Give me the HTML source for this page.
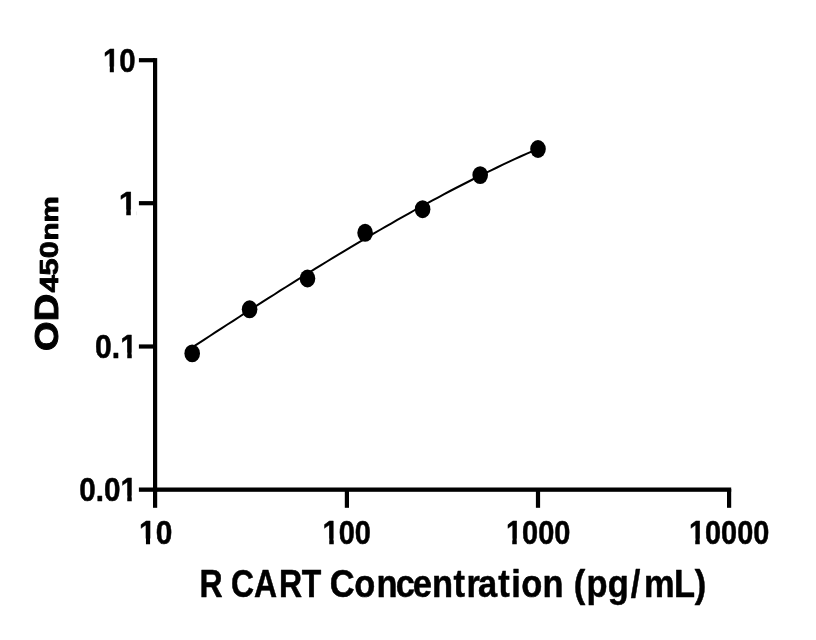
<!DOCTYPE html>
<html><head><meta charset="utf-8"><title>R CART standard curve</title>
<style>
html,body{margin:0;padding:0;background:#fff;}
body{width:816px;height:640px;overflow:hidden;}
svg{display:block;}
text{font-family:"Liberation Sans",sans-serif;font-weight:bold;fill:#000;stroke:#000;stroke-linejoin:round;}
</style></head><body>
<svg width="816" height="640" viewBox="0 0 816 640">
<rect width="816" height="640" fill="#fff"/>
<g fill="#000">
<rect x="153" y="58.1" width="4.2" height="433.7"/>
<rect x="138.9" y="487.5" width="592.3" height="4.3"/>
<rect x="138.9" y="58.1" width="16" height="4.2"/>
<rect x="138.9" y="201.1" width="16" height="4.2"/>
<rect x="138.9" y="344.4" width="16" height="4.2"/>
<rect x="153" y="489" width="4.2" height="18.8"/>
<rect x="344.8" y="489" width="4.2" height="18.8"/>
<rect x="535.9" y="489" width="4.2" height="18.8"/>
<rect x="727" y="489" width="4.2" height="18.8"/>
</g>
<path d="M192.2,347.4 L198.1,343.6 L203.9,339.8 L209.8,336.0 L215.6,332.2 L221.5,328.3 L227.4,324.5 L233.2,320.8 L239.1,317.0 L244.9,313.2 L250.8,309.4 L256.7,305.7 L262.5,301.9 L268.4,298.2 L274.3,294.5 L280.1,290.7 L286.0,287.0 L291.8,283.3 L297.7,279.7 L303.6,276.0 L309.4,272.4 L315.3,268.7 L321.1,265.1 L327.0,261.5 L332.9,257.9 L338.7,254.4 L344.6,250.8 L350.4,247.3 L356.3,243.8 L362.2,240.3 L368.0,236.9 L373.9,233.4 L379.8,230.0 L385.6,226.6 L391.5,223.3 L397.3,219.9 L403.2,216.6 L409.1,213.3 L414.9,210.0 L420.8,206.8 L426.6,203.6 L432.5,200.4 L438.4,197.3 L444.2,194.1 L450.1,191.0 L455.9,188.0 L461.8,185.0 L467.7,182.0 L473.5,179.0 L479.4,176.1 L485.3,173.2 L491.1,170.3 L497.0,167.5 L502.8,164.7 L508.7,161.9 L514.6,159.2 L520.4,156.5 L526.3,153.9 L532.1,151.3 L538.0,148.7" fill="none" stroke="#000" stroke-width="2" stroke-linecap="round"/>
<g fill="#000">
<ellipse cx="192.2" cy="353.4" rx="7.8" ry="8.95"/>
<ellipse cx="249.6" cy="309.3" rx="7.8" ry="8.95"/>
<ellipse cx="307.5" cy="278.5" rx="7.8" ry="8.95"/>
<ellipse cx="365.1" cy="232.8" rx="7.8" ry="8.95"/>
<ellipse cx="422.6" cy="209.2" rx="7.8" ry="8.95"/>
<ellipse cx="480.2" cy="175.1" rx="7.8" ry="8.95"/>
<ellipse cx="538" cy="149.0" rx="7.8" ry="8.95"/>
</g>
<text x="102.91" y="71.85" font-size="32.7" stroke-width="0.5" textLength="32.69" lengthAdjust="spacingAndGlyphs">10</text>
<text x="118.74" y="214.5" font-size="32.7" stroke-width="0.5" textLength="18.08" lengthAdjust="spacingAndGlyphs">1</text>
<text x="95.09" y="358.4" font-size="32.7" stroke-width="0.5" textLength="41.84" lengthAdjust="spacingAndGlyphs">0.1</text>
<text x="79.18" y="501.3" font-size="32.7" stroke-width="0.5" textLength="57.71" lengthAdjust="spacingAndGlyphs">0.01</text>
<text x="139.08" y="543.5" font-size="32.7" stroke-width="0.5" textLength="33.20" lengthAdjust="spacingAndGlyphs">10</text>
<text x="322.61" y="543.5" font-size="32.7" stroke-width="0.5" textLength="48.31" lengthAdjust="spacingAndGlyphs">100</text>
<text x="506.01" y="543.5" font-size="32.7" stroke-width="0.5" textLength="64.32" lengthAdjust="spacingAndGlyphs">1000</text>
<text x="689.04" y="543.5" font-size="32.7" stroke-width="0.5" textLength="80.22" lengthAdjust="spacingAndGlyphs">10000</text>
<text transform="translate(199.44,597.1) scale(0.8350,1)" font-size="38.3" stroke-width="0.5" dx="0 0 -0.43 -0.13 2.34 -0.46">R CART</text>
<text transform="translate(329.64,597.1) scale(0.9000,1)" font-size="38.3" stroke-width="0.5" dx="0 -0.27 1.32 -2.12 -2.35 0.04 0.48 1.84 -2.27 1.36 1.61 0.34 0.21">Concentration</text>
<text transform="translate(573.72,597.1) scale(0.9000,1)" font-size="38.3" stroke-width="0.5" dx="0 1.43 0.16 2.32 4 -0.64 -0.36">(pg/mL)</text>
<text transform="translate(57.8,349.9) rotate(-90)"><tspan x="-1.06" y="0.00" font-size="33.6" stroke-width="1.0" textLength="57.09" lengthAdjust="spacingAndGlyphs">OD</tspan><tspan x="57.35" y="0.30" font-size="25.6" stroke-width="0.8" textLength="51.37" lengthAdjust="spacingAndGlyphs">450</tspan><tspan x="109.31" y="0.00" font-size="23.2" stroke-width="0.8" textLength="44.24" lengthAdjust="spacingAndGlyphs">nm</tspan></text>
<g fill="#fff">
<rect x="102.5" y="66.5" width="7.29" height="6.5"/>
<rect x="113.86" y="66.5" width="5.64" height="6.5"/>
<rect x="118.5" y="209.5" width="7.75" height="6.5"/>
<rect x="130.79" y="209.5" width="5.71" height="6.5"/>
<rect x="120.5" y="352.5" width="6.75" height="6.5"/>
<rect x="131.75" y="352.5" width="5.75" height="6.5"/>
<rect x="120.5" y="495.5" width="6.75" height="6.5"/>
<rect x="131.75" y="495.5" width="5.75" height="6.5"/>
<rect x="138.5" y="538.5" width="7.45" height="6.5"/>
<rect x="150.07" y="538.5" width="5.43" height="6.5"/>
<rect x="322.5" y="538.5" width="6.75" height="6.5"/>
<rect x="333.75" y="538.5" width="4.75" height="6.5"/>
<rect x="505.5" y="538.5" width="6.75" height="6.5"/>
<rect x="516.75" y="538.5" width="5.75" height="6.5"/>
<rect x="688.5" y="538.5" width="6.75" height="6.5"/>
<rect x="699.75" y="538.5" width="5.75" height="6.5"/>
</g>
</svg>
</body></html>
